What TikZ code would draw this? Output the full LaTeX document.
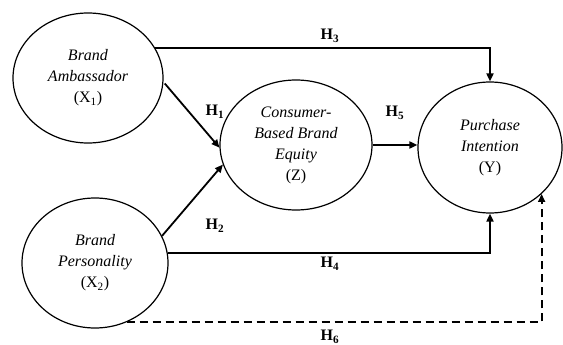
\documentclass[tikz,border=0pt]{standalone}
\usepackage{fontspec}
\setmainfont{Liberation Serif}
\usetikzlibrary{shapes.geometric,arrows.meta}
\begin{document}
\begin{tikzpicture}[x=1pt,y=-1pt,
  var/.style={draw,ellipse,line width=1.2pt,inner sep=0pt,align=center,
     font=\fontsize{16}{21}\selectfont},
  hyp/.style={font=\fontsize{16}{19}\selectfont\bfseries},
  link/.style={line width=1.8pt,-{Triangle[length=8pt,width=7pt]}},
  dlink/.style={link,dash pattern=on 8pt off 5pt}]
\useasboundingbox (0,0) rectangle (563,345);
\node[var,minimum width=150pt,minimum height=130pt] (X1) at (88,78)
  {\itshape Brand\\ \itshape Ambassador\\ (X\textsubscript{1})};
\node[var,minimum width=146pt,minimum height=130pt] (X2) at (95,263)
  {\itshape Brand\\ \itshape Personality\\ (X\textsubscript{2})};
\node[var,minimum width=152pt,minimum height=130pt] (Z) at (296,145)
  {\itshape Consumer-\\ \itshape Based Brand\\ \itshape Equity\\ (Z)};
\node[var,minimum width=144pt,minimum height=131pt] (Y) at (490,147.5)
  {\itshape Purchase\\ \itshape Intention\\ (Y)};
\draw[link] (X1.24) -| (Y.north);
\draw[link,shorten <=2pt] (X1.-3) -- (Z.182);
\draw[link] (X2.22) -- (Z.195);
\draw[link] (Z.east) -- (Z.east -| Y.west);
\draw[link] (X2.8) -| (Y.south);
\draw[dlink] (X2.-62) -| (Y.-42);
\node[hyp] (h3) at (330,36) {H\textsubscript{3}};
\node[hyp] (h1) at (215,112) {H\textsubscript{1}};
\node[hyp] (h2) at (215,226) {H\textsubscript{2}};
\node[hyp] (h5) at (395,113) {H\textsubscript{5}};
\node[hyp] (h4) at (330,264) {H\textsubscript{4}};
\node[hyp] (h6) at (330,337) {H\textsubscript{6}};
\end{tikzpicture}
\end{document}
